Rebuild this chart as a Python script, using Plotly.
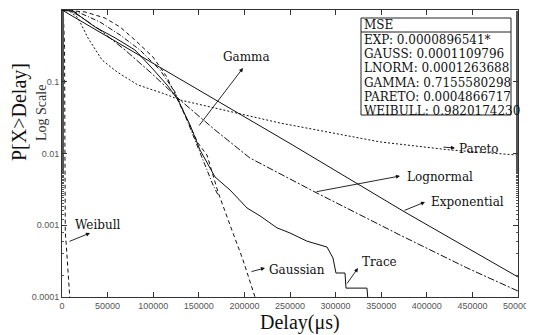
import plotly.graph_objects as go

# ---- data (delay in microseconds, P[X>Delay]) ----
trace_x = [0, 11000, 19700, 36200, 58100, 80000, 98700, 116200, 127200, 140400, 151300,
           167800, 184200, 202900, 217100, 235700, 250000, 268600, 290600, 297100, 300400,
           310300, 311400, 334400, 335500]
trace_p = [1, 1, 0.82, 0.58, 0.41, 0.277, 0.155, 0.087, 0.0557, 0.025, 0.0112,
           0.00471, 0.0031, 0.00174, 0.00135, 0.00092, 0.00078, 0.0006, 0.000497, 0.00035, 0.000216,
           0.000216, 0.000133, 0.000133, 0.00009]

exp_x = [0, 129400, 250000, 373900, 500000]
exp_p = [1, 0.109, 0.0138, 0.00158, 0.00019]

gauss_x = [0, 25200, 47100, 63600, 80000, 99800, 115100, 126100, 138200, 149100, 159000,
           171100, 184200, 198500, 211600]
gauss_p = [1, 0.94, 0.774, 0.58, 0.382, 0.221, 0.116, 0.0594, 0.0275, 0.014, 0.0095,
           0.0029, 0.00101, 0.000328, 0.0001]

lnorm_x = [0, 8800, 19700, 41700, 69100, 96500, 129400, 167800, 206100, 277400, 370600, 444100, 500000]
lnorm_p = [1, 0.97, 0.82, 0.526, 0.277, 0.137, 0.0557, 0.0213, 0.00865, 0.0029, 0.00073, 0.000254, 0.000121]

gamma_x = [0, 19700, 41700, 63600, 85500, 107500, 123900, 134900, 145800, 156800, 165600, 171100]
gamma_p = [1, 0.91, 0.68, 0.449, 0.277, 0.146, 0.072, 0.0344, 0.0154, 0.0069, 0.00364, 0.00264]

pareto_x = [0, 8000, 17500, 28500, 43900, 60300, 83300, 112900, 129400, 239000, 348700, 425500, 500000]
pareto_p = [1, 0.97, 0.776, 0.407, 0.201, 0.137, 0.09, 0.0675, 0.0557, 0.0266, 0.0145, 0.0112, 0.0095]

weib_x = [0, 1500, 2800, 3300, 3600, 4800, 8500]
weib_p = [1, 0.9, 0.3, 0.01, 0.0008, 0.0005, 0.0001]

x_ticks = [0, 50000, 100000, 150000, 200000, 250000, 300000, 350000, 400000, 450000, 500000]
y_ticks = [0.0001, 0.001, 0.01, 0.1, 1]
y_tick_text = ["0.0001", "0.001", "0.01", "0.1", "1"]

mse_lines = ["MSE", "EXP: 0.0000896541*", "GAUSS: 0.0001109796", "LNORM: 0.0001263688",
             "GAMMA: 0.7155580298", "PARETO: 0.0004866717", "WEIBULL: 0.9820174230"]

# ---- layout helpers (screen pixel -> paper); page body adds an 8px offset ----
OFF = 8
W, H = 526, 327
L, T = 62 - OFF, 10 - OFF
PW, PH = 456, 287
R = W - L - PW
B = H - T - PH


def px(xp):
    return (xp - OFF - L) / PW


def py(yp):
    return (T + PH - (yp - OFF)) / PH


fig = go.Figure()
black = "#111"
series = [
    (exp_x, exp_p, "solid"),
    (lnorm_x, lnorm_p, "7px,2px,2px,2px"),
    (pareto_x, pareto_p, "2px,2px"),
    (gauss_x, gauss_p, "4px,3px"),
    (gamma_x, gamma_p, "5px,2px,1px,2px"),
    (weib_x, weib_p, "4px,3px"),
    (trace_x, trace_p, "solid"),
]
for xs, ps, dash in series:
    fig.add_trace(go.Scatter(x=xs, y=ps, mode="lines",
                             line=dict(color=black, width=1, dash=dash),
                             showlegend=False, hoverinfo="skip"))

serif = "DejaVu Serif"
ann = []
# curve labels
labels = [("Gamma", 246, 57), ("Pareto", 479, 149), ("Lognormal", 440, 177),
          ("Exponential", 467, 202), ("Weibull", 98, 225), ("Gaussian", 297, 270),
          ("Trace", 379, 262)]
for t, xp, yp in labels:
    ann.append(dict(text=t, x=px(xp), y=py(yp), xref="paper", yref="paper",
                    xanchor="center", yanchor="middle",
                    showarrow=False, font=dict(family=serif, size=12, color=black)))
# arrows: (head x, head y, tail x, tail y)
arrows = [(243, 68, 198, 127), (400, 176, 315, 192), (425, 202, 403, 211),
          (265, 268, 250, 272), (358, 268, 346, 285), (90, 233, 68, 242),
          (455, 148, 442, 147)]
for hx, hy, tx, ty in arrows:
    ann.append(dict(text="", x=px(hx), y=py(hy), xref="paper", yref="paper",
                    ax=tx - hx, ay=ty - hy, showarrow=True, arrowhead=2,
                    arrowsize=0.9, arrowwidth=0.9, arrowcolor=black))
# MSE box text
ys = [25, 40, 54, 68, 83, 97, 111]
for t, yp in zip(mse_lines, ys):
    ann.append(dict(text=t, x=px(362), y=py(yp), xref="paper", yref="paper",
                    xanchor="left", yanchor="middle", showarrow=False,
                    font=dict(family=serif, size=12, color=black)))
# axis titles
ann.append(dict(text="P[X>Delay]", x=px(20), y=py(112), xref="paper", yref="paper",
                xanchor="center", yanchor="middle",
                textangle=-90, showarrow=False,
                font=dict(family="Liberation Serif", size=20, color=black)))
ann.append(dict(text="Log Scale", x=px(41), y=py(113), xref="paper", yref="paper",
                xanchor="center", yanchor="middle",
                textangle=-90, showarrow=False,
                font=dict(family="Liberation Serif", size=14, color="#333")))
ann.append(dict(text="Delay(\u03bcs)", x=px(300), y=py(322), xref="paper", yref="paper",
                xanchor="center", yanchor="middle", showarrow=False,
                font=dict(family="Liberation Serif", size=20, color=black)))

shapes = [
    dict(type="rect", xref="paper", yref="paper", x0=px(361), x1=px(511),
         y0=py(115), y1=py(18), line=dict(color="#222", width=1)),
    dict(type="line", xref="paper", yref="paper", x0=px(361), x1=px(511),
         y0=py(32), y1=py(32), line=dict(color="#222", width=1)),
]

tickfont = dict(family="Liberation Sans", size=9, color="#555")
fig.update_layout(
    width=W, height=H, margin=dict(l=L, r=R, t=T, b=B, autoexpand=False),
    plot_bgcolor="white", paper_bgcolor="white",
    annotations=ann, shapes=shapes,
    xaxis=dict(range=[0, 500000], tickvals=x_ticks, ticktext=[str(v) for v in x_ticks],
               ticks="inside", ticklen=5, tickcolor="#333", showline=True,
               linecolor="#333", linewidth=1, mirror="ticks", showgrid=False,
               zeroline=False, tickfont=tickfont, automargin=False),
    yaxis=dict(type="log", range=[-4, 0], tickvals=y_ticks, ticktext=y_tick_text,
               ticks="inside", ticklen=5, tickcolor="#333", showline=True,
               linecolor="#333", linewidth=1, mirror="ticks", showgrid=False,
               zeroline=False, tickfont=tickfont, automargin=False,
               minor=dict(ticks="inside", ticklen=2, tickcolor="#555", showgrid=False)),
)

fig.write_html("out.html")
